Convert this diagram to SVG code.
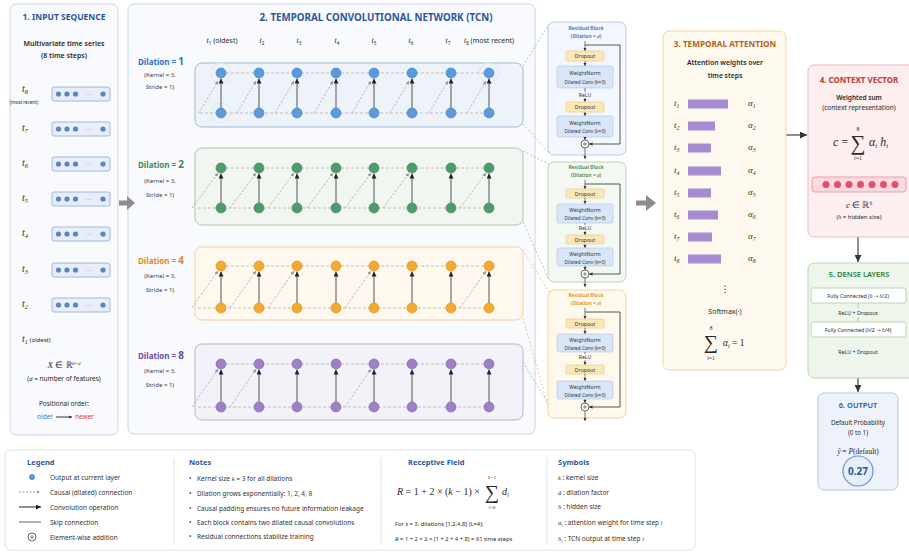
<svg xmlns="http://www.w3.org/2000/svg" width="909" height="553" viewBox="0 0 909 553">
<defs>
<style>
text{font-family:"Noto Sans","Liberation Sans",sans-serif;fill:#2a2a2a}
.ttl{font-size:9px;font-weight:700;text-anchor:middle}
.c{text-anchor:middle}
.s7{font-size:7px;font-weight:600}
.s6{font-size:6px}
.s55{font-size:5.5px}
.mi{font-family:"Liberation Serif","DejaVu Serif",serif;font-style:italic}
.ar{font-family:"DejaVu Sans",sans-serif}
.sb{font-size:65%}
.tl{font-size:7px;text-anchor:middle}
.lab{font-size:10px;font-family:"Liberation Serif","DejaVu Serif",serif;font-style:italic}
.dl{font-size:8px;font-weight:700}
.kr{font-size:6px;text-anchor:middle;fill:#444}
.ibox{fill:#e7eef9;stroke:#8ea9d3;stroke-width:.8}
.idot{fill:#5a85c3}
.nb{fill:#5b9bdc;stroke:#3d7cc2;stroke-width:.6}
.ng{fill:#4e9c6c;stroke:#357f52;stroke-width:.6}
.no{fill:#f2aa33;stroke:#d58c14;stroke-width:.6}
.np{fill:#9d80c6;stroke:#7a5eaa;stroke-width:.6}
.hd{stroke:#b0b0b0;stroke-width:.8;stroke-dasharray:3 2;fill:none}
.vt{stroke:#555;stroke-width:1;marker-end:url(#ah)}
.dg{stroke:#a0a0a0;stroke-width:.7;stroke-dasharray:2.5 1.5;fill:none;marker-end:url(#ahs)}
.zl{stroke:#9aa4b0;stroke-width:.7;stroke-dasharray:2 2;fill:none}
.zo{stroke:#eab267;stroke-width:.7;stroke-dasharray:2 2;fill:none}
.rbt{font-size:5px;text-anchor:middle;font-weight:600}
.rt{font-size:5.2px;text-anchor:middle;fill:#333}
.rt2{font-size:4.8px;text-anchor:middle;fill:#333}
.dr{fill:#fce8b6;stroke:#e6c47c;stroke-width:.6}
.wn{fill:#d8e6f8;stroke:#a7c1e6;stroke-width:.6}
.ra{stroke:#444;stroke-width:.7;marker-end:url(#ahr)}
.sk{stroke:#444;stroke-width:.9;fill:none;marker-end:url(#ahr)}
.bar{fill:#a68bd0}
.at{font-size:9px;font-family:"Liberation Serif","DejaVu Serif",serif;font-style:italic;fill:#333}
.lg{font-size:6.5px;fill:#333}
.lt{font-size:7.5px;font-weight:700;fill:#2b5797}
</style>
<marker id="ah" viewBox="0 0 6 6" refX="6" refY="3" markerWidth="5" markerHeight="5" markerUnits="userSpaceOnUse" orient="auto"><path d="M0,0L6,3L0,6z" fill="#222"/></marker>
<marker id="ahs" viewBox="0 0 6 6" refX="6" refY="3" markerWidth="3.5" markerHeight="3.5" markerUnits="userSpaceOnUse" orient="auto"><path d="M0,0L6,3L0,6z" fill="#8f8f8f"/></marker>
<marker id="ahr" viewBox="0 0 6 6" refX="6" refY="3" markerWidth="3.5" markerHeight="3.5" markerUnits="userSpaceOnUse" orient="auto"><path d="M0,0L6,3L0,6z" fill="#333"/></marker>
<marker id="ahb" viewBox="0 0 6 6" refX="6" refY="3" markerWidth="7" markerHeight="7" markerUnits="userSpaceOnUse" orient="auto"><path d="M0,0L6,3L0,6z" fill="#333"/></marker>
</defs>
<rect width="909" height="553" fill="#ffffff"/>

<!-- Panel 1 -->
<g id="input-sequence">
<rect x="10" y="4" width="108" height="431" rx="6" fill="#f8fafd" stroke="#c9d6e8"/>
<text x="64" y="20" class="ttl" style="fill:#2b5797;font-size:8.5px">1. INPUT SEQUENCE</text>
<text x="64" y="46" class="c s7">Multivariate time series</text>
<text x="64" y="58" class="c s7">(8 time steps)</text>
<text x="22" y="92" class="lab">t<tspan class="sb" dy="2">8</tspan></text>
<text x="24" y="104" class="c" style="font-size:4.5px">(most recent)</text>
<text x="22" y="131" class="lab">t<tspan class="sb" dy="2">7</tspan></text>
<text x="22" y="166" class="lab">t<tspan class="sb" dy="2">6</tspan></text>
<text x="22" y="201" class="lab">t<tspan class="sb" dy="2">5</tspan></text>
<text x="22" y="236" class="lab">t<tspan class="sb" dy="2">4</tspan></text>
<text x="22" y="272" class="lab">t<tspan class="sb" dy="2">3</tspan></text>
<text x="22" y="307" class="lab">t<tspan class="sb" dy="2">2</tspan></text>
<text x="22" y="342" class="lab">t<tspan class="sb" dy="2">1</tspan><tspan dy="-2" style="font-family:'Noto Sans','Liberation Sans',sans-serif;font-style:normal;font-size:6px"> (oldest)</tspan></text>
<g id="feat-rows">
<rect class="ibox" x="52" y="87" width="58" height="14" rx="2"/>
<rect class="ibox" x="52" y="122" width="58" height="14" rx="2"/>
<rect class="ibox" x="52" y="157" width="58" height="14" rx="2"/>
<rect class="ibox" x="52" y="192" width="58" height="14" rx="2"/>
<rect class="ibox" x="52" y="227" width="58" height="14" rx="2"/>
<rect class="ibox" x="52" y="263" width="58" height="14" rx="2"/>
<rect class="ibox" x="52" y="298" width="58" height="14" rx="2"/>
<g class="idot">
<circle cx="58.5" cy="94" r="2.6"/><circle cx="67" cy="94" r="2.6"/><circle cx="75.5" cy="94" r="2.6"/><circle cx="103" cy="94" r="2.6"/>
<circle cx="58.5" cy="129" r="2.6"/><circle cx="67" cy="129" r="2.6"/><circle cx="75.5" cy="129" r="2.6"/><circle cx="103" cy="129" r="2.6"/>
<circle cx="58.5" cy="164" r="2.6"/><circle cx="67" cy="164" r="2.6"/><circle cx="75.5" cy="164" r="2.6"/><circle cx="103" cy="164" r="2.6"/>
<circle cx="58.5" cy="199" r="2.6"/><circle cx="67" cy="199" r="2.6"/><circle cx="75.5" cy="199" r="2.6"/><circle cx="103" cy="199" r="2.6"/>
<circle cx="58.5" cy="234" r="2.6"/><circle cx="67" cy="234" r="2.6"/><circle cx="75.5" cy="234" r="2.6"/><circle cx="103" cy="234" r="2.6"/>
<circle cx="58.5" cy="270" r="2.6"/><circle cx="67" cy="270" r="2.6"/><circle cx="75.5" cy="270" r="2.6"/><circle cx="103" cy="270" r="2.6"/>
<circle cx="58.5" cy="305" r="2.6"/><circle cx="67" cy="305" r="2.6"/><circle cx="75.5" cy="305" r="2.6"/><circle cx="103" cy="305" r="2.6"/>
</g>
<g style="font-size:6px">
<text x="89" y="96" class="c" style="fill:#5a85c3">···</text>
<text x="89" y="131" class="c" style="fill:#5a85c3">···</text>
<text x="89" y="166" class="c" style="fill:#5a85c3">···</text>
<text x="89" y="201" class="c" style="fill:#5a85c3">···</text>
<text x="89" y="236" class="c" style="fill:#5a85c3">···</text>
<text x="89" y="272" class="c" style="fill:#5a85c3">···</text>
<text x="89" y="307" class="c" style="fill:#5a85c3">···</text>
</g>
</g>
<text x="64" y="368" class="c" style="font-size:9px"><tspan class="mi">X</tspan> ∈ ℝ<tspan dy="-3.5" style="font-size:5px" class="mi">8×d</tspan></text>
<text x="64" y="381" class="c" style="font-size:6.5px">(<tspan class="mi">d</tspan> = number of features)</text>
<text x="64" y="406" class="c" style="font-size:6.5px">Positional order:</text>
<text x="53" y="419" style="font-size:6.5px;fill:#3f78c8;text-anchor:end">older</text>
<line x1="56" y1="417" x2="72" y2="417" stroke="#222" stroke-width=".9" marker-end="url(#ahr)"/>
<text x="75" y="419" style="font-size:6.5px;fill:#e0393e">newer</text>
</g>

<!-- Panel 2 -->
<g id="tcn">
<rect x="128" y="4" width="407" height="430" rx="6" fill="#f8fafd" stroke="#c9d6e8"/>
<text x="376" y="21" class="ttl" style="fill:#2b5797;font-size:9.8px">2. TEMPORAL CONVOLUTIONAL NETWORK (TCN)</text>
<g id="time-labels">
<text x="222" y="43" class="tl"><tspan class="mi" style="font-size:8px">t</tspan><tspan class="sb" dy="1.5">1</tspan><tspan dy="-1.5"> (oldest)</tspan></text>
<text x="262" y="43" class="tl"><tspan class="mi" style="font-size:8px">t</tspan><tspan class="sb" dy="1.5">2</tspan></text>
<text x="299" y="43" class="tl"><tspan class="mi" style="font-size:8px">t</tspan><tspan class="sb" dy="1.5">3</tspan></text>
<text x="337" y="43" class="tl"><tspan class="mi" style="font-size:8px">t</tspan><tspan class="sb" dy="1.5">4</tspan></text>
<text x="374" y="43" class="tl"><tspan class="mi" style="font-size:8px">t</tspan><tspan class="sb" dy="1.5">5</tspan></text>
<text x="411" y="43" class="tl"><tspan class="mi" style="font-size:8px">t</tspan><tspan class="sb" dy="1.5">6</tspan></text>
<text x="448" y="43" class="tl"><tspan class="mi" style="font-size:8px">t</tspan><tspan class="sb" dy="1.5">7</tspan></text>
<text x="489" y="43" class="tl"><tspan class="mi" style="font-size:8px">t</tspan><tspan class="sb" dy="1.5">8</tspan><tspan dy="-1.5"> (most recent)</tspan></text>
</g>

<g id="row-d1">
<rect x="195" y="63" width="328" height="64" rx="7" fill="#eef3fa" stroke="#9db7d8"/>
<text x="138" y="65" class="dl" style="fill:#2f6fc0">Dilation = <tspan style="font-size:10px">1</tspan></text>
<text x="160" y="77" class="kr">(Kernel = 3,</text>
<text x="160" y="89" class="kr">Stride = 1)</text>
<circle cx="221" cy="73" r="10" fill="none" stroke="#dfe7f2"/>
<circle cx="221" cy="113" r="10" fill="none" stroke="#dfe7f2"/>
<circle cx="489" cy="73" r="10" fill="none" stroke="#dfe7f2"/>
</g>
<g id="row-d2">
<rect x="195" y="148" width="328" height="77" rx="7" fill="#f2f6f1" stroke="#a9c9a9"/>
<text x="138" y="168" class="dl" style="fill:#3a8a55">Dilation = <tspan style="font-size:10px">2</tspan></text>
<text x="160" y="183" class="kr">(Kernel = 3,</text>
<text x="160" y="197" class="kr">Stride = 1)</text>
</g>
<g id="row-d4">
<rect x="195" y="247" width="328" height="73" rx="7" fill="#fff8ee" stroke="#f2cf98"/>
<text x="138" y="264" class="dl" style="fill:#e08a1e">Dilation = <tspan style="font-size:10px">4</tspan></text>
<text x="160" y="278" class="kr">(Kernel = 3,</text>
<text x="160" y="292" class="kr">Stride = 1)</text>
</g>
<g id="row-d8">
<rect x="195" y="344" width="328" height="76" rx="7" fill="#f4f2f9" stroke="#b9aed6"/>
<text x="138" y="359" class="dl" style="fill:#6a4ea0">Dilation = <tspan style="font-size:10px">8</tspan></text>
<text x="160" y="373" class="kr">(Kernel = 3,</text>
<text x="160" y="387" class="kr">Stride = 1)</text>
</g>
</g>

<!-- Connectors -->
<g id="connectors">
<path class="hd" d="M221 73H489M200 113H489"/>
<line class="dg" x1="199" y1="113" x2="218" y2="81"/><line class="dg" x1="237" y1="113" x2="256" y2="81"/><line class="dg" x1="275" y1="113" x2="294" y2="81"/><line class="dg" x1="314" y1="113" x2="333" y2="81"/><line class="dg" x1="352" y1="113" x2="371" y2="81"/><line class="dg" x1="390" y1="113" x2="409" y2="81"/><line class="dg" x1="429" y1="113" x2="448" y2="81"/><line class="dg" x1="467" y1="113" x2="486" y2="81"/>
<line class="vt" x1="221" y1="108" x2="221" y2="78.5"/><line class="vt" x1="259" y1="108" x2="259" y2="78.5"/><line class="vt" x1="297" y1="108" x2="297" y2="78.5"/><line class="vt" x1="336" y1="108" x2="336" y2="78.5"/><line class="vt" x1="374" y1="108" x2="374" y2="78.5"/><line class="vt" x1="412" y1="108" x2="412" y2="78.5"/><line class="vt" x1="451" y1="108" x2="451" y2="78.5"/><line class="vt" x1="489" y1="108" x2="489" y2="78.5"/>
<path class="hd" d="M221 168H489M198 208H489"/>
<line class="dg" x1="192" y1="208" x2="218" y2="173"/><line class="dg" x1="230" y1="208" x2="256" y2="173"/><line class="dg" x1="268" y1="208" x2="294" y2="173"/><line class="dg" x1="307" y1="208" x2="333" y2="173"/><line class="dg" x1="345" y1="208" x2="371" y2="173"/><line class="dg" x1="383" y1="208" x2="409" y2="173"/><line class="dg" x1="460" y1="208" x2="486" y2="173"/>
<line class="vt" x1="221" y1="203" x2="221" y2="173.5"/><line class="vt" x1="259" y1="203" x2="259" y2="173.5"/><line class="vt" x1="297" y1="203" x2="297" y2="173.5"/><line class="vt" x1="336" y1="203" x2="336" y2="173.5"/><line class="vt" x1="374" y1="203" x2="374" y2="173.5"/><line class="vt" x1="412" y1="203" x2="412" y2="173.5"/><line class="vt" x1="451" y1="203" x2="451" y2="173.5"/><line class="vt" x1="489" y1="203" x2="489" y2="173.5"/>
<path class="hd" d="M221 266H489M198 308H489"/>
<line class="dg" x1="192" y1="308" x2="218" y2="271"/><line class="dg" x1="230" y1="308" x2="256" y2="271"/><line class="dg" x1="268" y1="308" x2="294" y2="271"/><line class="dg" x1="345" y1="308" x2="371" y2="271"/><line class="dg" x1="460" y1="308" x2="486" y2="271"/>
<line class="vt" x1="221" y1="303" x2="221" y2="271.5"/><line class="vt" x1="259" y1="303" x2="259" y2="271.5"/><line class="vt" x1="297" y1="303" x2="297" y2="271.5"/><line class="vt" x1="336" y1="303" x2="336" y2="271.5"/><line class="vt" x1="374" y1="303" x2="374" y2="271.5"/><line class="vt" x1="412" y1="303" x2="412" y2="271.5"/><line class="vt" x1="451" y1="303" x2="451" y2="271.5"/><line class="vt" x1="489" y1="303" x2="489" y2="271.5"/>
<path class="hd" d="M221 364H489M198 407H489"/>
<line class="dg" x1="192" y1="407" x2="218" y2="369"/><line class="dg" x1="230" y1="407" x2="256" y2="369"/><line class="dg" x1="345" y1="407" x2="371" y2="369"/>
<line class="vt" x1="221" y1="402" x2="221" y2="369.5"/><line class="vt" x1="259" y1="402" x2="259" y2="369.5"/><line class="vt" x1="297" y1="402" x2="297" y2="369.5"/><line class="vt" x1="336" y1="402" x2="336" y2="369.5"/><line class="vt" x1="374" y1="402" x2="374" y2="369.5"/><line class="vt" x1="412" y1="402" x2="412" y2="369.5"/><line class="vt" x1="451" y1="402" x2="451" y2="369.5"/><line class="vt" x1="489" y1="402" x2="489" y2="369.5"/>
<path class="zl" d="M523 66L549 24M523 124L549 153M523 151L549 164M523 222L549 280M523 362L549 405"/>
<path class="zo" d="M523 250L549 292M523 318L549 410"/>
<polygon points="119,200.5 127,200.5 127,196 135,203 127,210 127,205.5 119,205.5" fill="#8c8c8c"/>
<polygon points="636,200.5 646,200.5 646,195 656,203 646,211 646,205.5 636,205.5" fill="#8c8c8c"/>
<line x1="786" y1="135" x2="807" y2="135" stroke="#444" stroke-width="1.2" marker-end="url(#ahb)"/>
<line x1="858" y1="237" x2="858" y2="262" stroke="#444" stroke-width="1.2" marker-end="url(#ahb)"/>
<line x1="858" y1="378" x2="858" y2="392" stroke="#444" stroke-width="1.2" marker-end="url(#ahb)"/>
</g>

<!-- Nodes -->
<g id="nodes-d1" class="nb">
<circle cx="221" cy="73" r="5"/><circle cx="259" cy="73" r="5"/><circle cx="297" cy="73" r="5"/><circle cx="336" cy="73" r="5"/><circle cx="374" cy="73" r="5"/><circle cx="412" cy="73" r="5"/><circle cx="451" cy="73" r="5"/><circle cx="489" cy="73" r="5"/>
<circle cx="221" cy="113" r="5"/><circle cx="259" cy="113" r="5"/><circle cx="297" cy="113" r="5"/><circle cx="336" cy="113" r="5"/><circle cx="374" cy="113" r="5"/><circle cx="412" cy="113" r="5"/><circle cx="451" cy="113" r="5"/><circle cx="489" cy="113" r="5"/>
</g>
<g id="nodes-d2" class="ng">
<circle cx="221" cy="168" r="5"/><circle cx="259" cy="168" r="5"/><circle cx="297" cy="168" r="5"/><circle cx="336" cy="168" r="5"/><circle cx="374" cy="168" r="5"/><circle cx="412" cy="168" r="5"/><circle cx="451" cy="168" r="5"/><circle cx="489" cy="168" r="5"/>
<circle cx="221" cy="208" r="5"/><circle cx="259" cy="208" r="5"/><circle cx="297" cy="208" r="5"/><circle cx="336" cy="208" r="5"/><circle cx="374" cy="208" r="5"/><circle cx="412" cy="208" r="5"/><circle cx="451" cy="208" r="5"/><circle cx="489" cy="208" r="5"/>
</g>
<g id="nodes-d4" class="no">
<circle cx="221" cy="266" r="5"/><circle cx="259" cy="266" r="5"/><circle cx="297" cy="266" r="5"/><circle cx="336" cy="266" r="5"/><circle cx="374" cy="266" r="5"/><circle cx="412" cy="266" r="5"/><circle cx="451" cy="266" r="5"/><circle cx="489" cy="266" r="5"/>
<circle cx="221" cy="308" r="5"/><circle cx="259" cy="308" r="5"/><circle cx="297" cy="308" r="5"/><circle cx="336" cy="308" r="5"/><circle cx="374" cy="308" r="5"/><circle cx="412" cy="308" r="5"/><circle cx="451" cy="308" r="5"/><circle cx="489" cy="308" r="5"/>
</g>
<g id="nodes-d8" class="np">
<circle cx="221" cy="364" r="5"/><circle cx="259" cy="364" r="5"/><circle cx="297" cy="364" r="5"/><circle cx="336" cy="364" r="5"/><circle cx="374" cy="364" r="5"/><circle cx="412" cy="364" r="5"/><circle cx="451" cy="364" r="5"/><circle cx="489" cy="364" r="5"/>
<circle cx="221" cy="407" r="5"/><circle cx="259" cy="407" r="5"/><circle cx="297" cy="407" r="5"/><circle cx="336" cy="407" r="5"/><circle cx="374" cy="407" r="5"/><circle cx="412" cy="407" r="5"/><circle cx="451" cy="407" r="5"/><circle cx="489" cy="407" r="5"/>
</g>

<!-- Residual blocks -->
<g id="resblock-1">
<rect x="548" y="22" width="78" height="133" rx="6" fill="#f3f7fd" stroke="#b5c9e5"/>
<text x="586" y="30" class="rbt" style="fill:#2f6fc0">Residual Block</text>
<text x="586" y="38" class="rbt" style="fill:#2f6fc0">(Dilation = <tspan class="mi">d</tspan>)</text>
<line class="ra" x1="585" y1="41" x2="585" y2="51"/>
<rect class="dr" x="566" y="51" width="38" height="10" rx="1.5"/><text x="585" y="58" class="rt">Dropout</text>
<line class="ra" x1="585" y1="61" x2="585" y2="66"/>
<rect class="wn" x="557" y="66" width="56" height="22" rx="2"/><text x="585" y="75" class="rt">WeightNorm</text><text x="585" y="84" class="rt2">Dilated Conv (k=3)</text>
<line stroke="#444" stroke-width=".7" x1="585" y1="88" x2="585" y2="92"/>
<text x="585" y="97" class="rt">ReLU</text>
<line class="ra" x1="585" y1="98" x2="585" y2="102"/>
<rect class="dr" x="566" y="102" width="38" height="10" rx="1.5"/><text x="585" y="109" class="rt">Dropout</text>
<line class="ra" x1="585" y1="112" x2="585" y2="116"/>
<rect class="wn" x="557" y="116" width="56" height="21" rx="2"/><text x="585" y="125" class="rt">WeightNorm</text><text x="585" y="133" class="rt2">Dilated Conv (k=3)</text>
<line class="ra" x1="585" y1="137" x2="585" y2="140"/>
<circle cx="585" cy="144" r="4" fill="#fff" stroke="#444" stroke-width=".8"/><path d="M583 144H587M585 142V146" stroke="#444" stroke-width=".6"/>
<line class="ra" x1="585" y1="148" x2="585" y2="159"/>
<path class="sk" d="M585 45H620V144H589"/>
</g>
<g id="resblock-2">
<rect x="548" y="162" width="78" height="120" rx="6" fill="#f3f8f2" stroke="#b4d3b4"/>
<text x="586" y="169" class="rbt" style="fill:#3a8a55">Residual Block</text>
<text x="586" y="177" class="rbt" style="fill:#3a8a55">(Dilation = <tspan class="mi">d</tspan>)</text>
<line class="ra" x1="585" y1="180" x2="585" y2="189"/>
<rect class="dr" x="566" y="189" width="38" height="9" rx="1.5"/><text x="585" y="195.5" class="rt">Dropout</text>
<line class="ra" x1="585" y1="198" x2="585" y2="204"/>
<rect class="wn" x="557" y="204" width="56" height="19" rx="2"/><text x="585" y="212" class="rt">WeightNorm</text><text x="585" y="220" class="rt2">Dilated Conv (k=3)</text>
<line stroke="#444" stroke-width=".7" x1="585" y1="223" x2="585" y2="225"/>
<text x="585" y="229.5" class="rt">ReLU</text>
<line class="ra" x1="585" y1="231" x2="585" y2="235"/>
<rect class="dr" x="566" y="235" width="38" height="9" rx="1.5"/><text x="585" y="241.5" class="rt">Dropout</text>
<line class="ra" x1="585" y1="244" x2="585" y2="248"/>
<rect class="wn" x="557" y="248" width="56" height="18" rx="2"/><text x="585" y="256" class="rt">WeightNorm</text><text x="585" y="263.5" class="rt2">Dilated Conv (k=3)</text>
<line class="ra" x1="585" y1="266" x2="585" y2="270"/>
<circle cx="585" cy="274" r="4" fill="#fff" stroke="#444" stroke-width=".8"/><path d="M583 274H587M585 272V276" stroke="#444" stroke-width=".6"/>
<line class="ra" x1="585" y1="278" x2="585" y2="287"/>
<path class="sk" d="M585 184H620V274H589"/>
</g>
<g id="resblock-3">
<rect x="548" y="290" width="78" height="128" rx="6" fill="#fff8ec" stroke="#f2d39c"/>
<text x="586" y="297" class="rbt" style="fill:#e08a1e">Residual Block</text>
<text x="586" y="305" class="rbt" style="fill:#e08a1e">(Dilation = <tspan class="mi">d</tspan>)</text>
<line class="ra" x1="585" y1="308" x2="585" y2="319"/>
<rect class="dr" x="566" y="319" width="38" height="9" rx="1.5"/><text x="585" y="325.5" class="rt">Dropout</text>
<line class="ra" x1="585" y1="328" x2="585" y2="334"/>
<rect class="wn" x="557" y="334" width="56" height="18" rx="2"/><text x="585" y="342" class="rt">WeightNorm</text><text x="585" y="349.5" class="rt2">Dilated Conv (k=3)</text>
<line stroke="#444" stroke-width=".7" x1="585" y1="352" x2="585" y2="354"/>
<text x="585" y="358.5" class="rt">ReLU</text>
<line class="ra" x1="585" y1="360" x2="585" y2="365"/>
<rect class="dr" x="566" y="365" width="38" height="9" rx="1.5"/><text x="585" y="371.5" class="rt">Dropout</text>
<line class="ra" x1="585" y1="374" x2="585" y2="381"/>
<rect class="wn" x="557" y="381" width="56" height="18" rx="2"/><text x="585" y="389" class="rt">WeightNorm</text><text x="585" y="396.5" class="rt2">Dilated Conv (k=3)</text>
<line class="ra" x1="585" y1="399" x2="585" y2="403"/>
<circle cx="585" cy="407" r="4" fill="#fff" stroke="#444" stroke-width=".8"/><path d="M583 407H587M585 405V409" stroke="#444" stroke-width=".6"/>
<line class="ra" x1="585" y1="411" x2="585" y2="421"/>
<path class="sk" d="M585 312H620V407H589"/>
</g>

<!-- Panel 3 -->
<g id="temporal-attention">
<rect x="663" y="31" width="123" height="339" rx="6" fill="#fdf9ee" stroke="#efd9a6"/>
<text x="725" y="47" class="ttl" style="fill:#b3651e;font-size:8.2px">3. TEMPORAL ATTENTION</text>
<text x="725" y="65" class="c s7" style="font-size:6.8px">Attention weights over</text>
<text x="725" y="78" class="c s7" style="font-size:6.8px">time steps</text>
<rect class="bar" x="688" y="99.5" width="40" height="9"/>
<rect class="bar" x="688" y="121.5" width="27" height="9"/>
<rect class="bar" x="688" y="143.5" width="23" height="9"/>
<rect class="bar" x="688" y="166.5" width="33" height="9"/>
<rect class="bar" x="688" y="188.5" width="23" height="9"/>
<rect class="bar" x="688" y="210.5" width="30" height="9"/>
<rect class="bar" x="688" y="232.5" width="24" height="9"/>
<rect class="bar" x="688" y="254.5" width="33" height="9"/>
<text x="674" y="106" class="at">t<tspan class="sb" dy="1.5">1</tspan></text>
<text x="674" y="128" class="at">t<tspan class="sb" dy="1.5">2</tspan></text>
<text x="674" y="150" class="at">t<tspan class="sb" dy="1.5">3</tspan></text>
<text x="674" y="173" class="at">t<tspan class="sb" dy="1.5">4</tspan></text>
<text x="674" y="195" class="at">t<tspan class="sb" dy="1.5">5</tspan></text>
<text x="674" y="217" class="at">t<tspan class="sb" dy="1.5">6</tspan></text>
<text x="674" y="239" class="at">t<tspan class="sb" dy="1.5">7</tspan></text>
<text x="674" y="261" class="at">t<tspan class="sb" dy="1.5">8</tspan></text>
<text x="748" y="106" class="at">α<tspan class="sb" dy="1.5">1</tspan></text>
<text x="748" y="128" class="at">α<tspan class="sb" dy="1.5">2</tspan></text>
<text x="748" y="150" class="at">α<tspan class="sb" dy="1.5">3</tspan></text>
<text x="748" y="173" class="at">α<tspan class="sb" dy="1.5">4</tspan></text>
<text x="748" y="195" class="at">α<tspan class="sb" dy="1.5">5</tspan></text>
<text x="748" y="217" class="at">α<tspan class="sb" dy="1.5">6</tspan></text>
<text x="748" y="239" class="at">α<tspan class="sb" dy="1.5">7</tspan></text>
<text x="748" y="261" class="at">α<tspan class="sb" dy="1.5">8</tspan></text>
<text x="725" y="292" class="c" style="font-size:9px;font-family:'DejaVu Sans',sans-serif">⋮</text>
<text x="725" y="314" class="c" style="font-size:7px">Softmax(·)</text>
<text x="711" y="349" class="c" style="font-size:20px;font-family:'Liberation Serif',serif">∑</text>
<text x="711" y="330" class="c" style="font-size:5.5px;font-family:'Liberation Serif',serif">8</text>
<text x="711" y="360" class="c" style="font-size:5.5px;font-family:'Liberation Serif',serif"><tspan class="mi">i</tspan>=1</text>
<text x="723" y="346" style="font-size:9.5px;font-family:'Liberation Serif',serif"><tspan class="mi">α</tspan><tspan class="mi sb" dy="1.5">i</tspan><tspan dy="-1.5"> = 1</tspan></text>
</g>

<!-- Panel 4 -->
<g id="context-vector">
<rect x="808" y="65" width="108" height="172" rx="6" fill="#fdeef0" stroke="#f0b7bf"/>
<text x="859" y="83" class="ttl" style="fill:#c0392b;font-size:8px">4. CONTEXT VECTOR</text>
<text x="859" y="100" class="c s7" style="font-size:6.5px">Weighted sum</text>
<text x="859" y="110" class="c s7" style="font-size:6.5px;font-weight:400">(context representation)</text>
<text x="848" y="146" style="font-size:12px;font-family:'Liberation Serif',serif;text-anchor:end"><tspan class="mi">c</tspan> =</text>
<text x="858" y="150" class="c" style="font-size:21px;font-family:'Liberation Serif',serif">∑</text>
<text x="858" y="131" class="c" style="font-size:6px;font-family:'Liberation Serif',serif">8</text>
<text x="858" y="160" class="c" style="font-size:6px;font-family:'Liberation Serif',serif"><tspan class="mi">i</tspan>=1</text>
<text x="869" y="146" style="font-size:12px;font-family:'Liberation Serif',serif"><tspan class="mi">α</tspan><tspan class="mi" style="font-size:7px" dy="2">i</tspan><tspan class="mi" dy="-2"> h</tspan><tspan class="mi" style="font-size:7px" dy="2">i</tspan></text>
<rect x="812" y="177" width="94" height="15" rx="3" fill="#fbd9de" stroke="#e8a0ab"/>
<g fill="#e0506a"><circle cx="826" cy="184.5" r="3.5"/><circle cx="837.5" cy="184.5" r="3.5"/><circle cx="849" cy="184.5" r="3.5"/><circle cx="860.5" cy="184.5" r="3.5"/><circle cx="872" cy="184.5" r="3.5"/><circle cx="883.5" cy="184.5" r="3.5"/><circle cx="895" cy="184.5" r="3.5"/></g>
<text x="859" y="208" class="c" style="font-size:9px;font-family:'Liberation Serif',serif"><tspan class="mi">c</tspan> ∈ ℝ<tspan class="mi" dy="-3.5" style="font-size:5.5px">h</tspan></text>
<text x="859" y="219" class="c" style="font-size:6px">(<tspan class="mi">h</tspan> = hidden size)</text>
</g>

<!-- Panel 5 -->
<g id="dense-layers">
<rect x="808" y="263" width="108" height="115" rx="6" fill="#eef6ec" stroke="#b8d8b0"/>
<text x="859" y="277" class="ttl" style="fill:#2e7d32;font-size:7.5px;font-weight:600">5. DENSE LAYERS</text>
<rect x="811" y="288" width="95" height="15" rx="2" fill="#fff" stroke="#b8d8b0"/>
<text x="858" y="297.5" class="c" style="font-size:5.3px">Fully Connected (<tspan class="mi">h</tspan> <tspan class="ar">→</tspan> <tspan class="mi">h</tspan>/2)</text>
<line x1="858" y1="303" x2="858" y2="308" stroke="#999" stroke-width=".6"/>
<text x="858" y="315" class="c" style="font-size:5.3px">ReLU + Dropout</text>
<line x1="858" y1="317" x2="858" y2="322" stroke="#999" stroke-width=".6"/>
<rect x="811" y="322" width="95" height="15" rx="2" fill="#fff" stroke="#b8d8b0"/>
<text x="858" y="331.5" class="c" style="font-size:5.3px">Fully Connected (<tspan class="mi">h</tspan>/2 <tspan class="ar">→</tspan> <tspan class="mi">h</tspan>/4)</text>
<text x="858" y="354" class="c" style="font-size:5.3px">ReLU + Dropout</text>
</g>

<!-- Panel 6 -->
<g id="output">
<rect x="818" y="393" width="80" height="97" rx="6" fill="#eef3fb" stroke="#b5c8e6"/>
<text x="858" y="408" class="ttl" style="fill:#2b5797;font-size:7.5px;font-weight:600">6. OUTPUT</text>
<text x="858" y="425" class="c" style="font-size:6.2px">Default Probability</text>
<text x="858" y="435" class="c" style="font-size:6.2px">(0 to 1)</text>
<text x="858" y="454" class="c" style="font-size:7.5px;font-family:'Liberation Serif',serif"><tspan class="mi">ŷ</tspan> = <tspan class="mi">P</tspan>(default)</text>
<circle cx="858" cy="471" r="15" fill="#e6eefa" stroke="#6b93cf" stroke-width="1.2"/>
<text x="858" y="475" class="c" style="font-size:10px;font-weight:700;fill:#2b5797">0.27</text>
</g>

<!-- Legend -->
<g id="legend">
<rect x="5" y="450" width="690" height="100" rx="5" fill="#ffffff" stroke="#dde3ea"/>
<text x="27" y="465" class="lt">Legend</text>
<circle cx="32" cy="477" r="3" fill="#5b9bdc"/>
<text x="50" y="479.5" class="lg">Output at current layer</text>
<line x1="19" y1="492" x2="40" y2="492" stroke="#888" stroke-width=".8" stroke-dasharray="2 1.5" marker-end="url(#ahs)"/>
<text x="50" y="494.5" class="lg">Causal (dilated) connection</text>
<line x1="19" y1="507" x2="41" y2="507" stroke="#222" stroke-width="1" marker-end="url(#ah)"/>
<text x="50" y="509.5" class="lg">Convolution operation</text>
<line x1="19" y1="522" x2="41" y2="522" stroke="#666" stroke-width="1"/>
<text x="50" y="524.5" class="lg">Skip connection</text>
<circle cx="32" cy="537" r="4" fill="#fff" stroke="#444" stroke-width=".8"/><path d="M30 537H34M32 535V539" stroke="#444" stroke-width=".6"/>
<text x="50" y="539.5" class="lg">Element-wise addition</text>
<line x1="174" y1="458" x2="174" y2="545" stroke="#e1e5ea"/>
<text x="189" y="465" class="lt">Notes</text>
<text x="189" y="481" class="lg">•</text><text x="197" y="481" class="lg">Kernel size <tspan class="mi">k</tspan> = 3 for all dilations</text>
<text x="189" y="496" class="lg">•</text><text x="197" y="496" class="lg">Dilation grows exponentially: 1, 2, 4, 8</text>
<text x="189" y="511" class="lg">•</text><text x="197" y="511" class="lg">Causal padding ensures no future information leakage</text>
<text x="189" y="525" class="lg">•</text><text x="197" y="525" class="lg">Each block contains two dilated causal convolutions</text>
<text x="189" y="539" class="lg">•</text><text x="197" y="539" class="lg">Residual connections stabilize training</text>
<line x1="381" y1="458" x2="381" y2="545" stroke="#e1e5ea"/>
<text x="408" y="465" class="lt">Receptive Field</text>
<text x="397" y="495" style="font-size:10px;font-family:'Liberation Serif',serif"><tspan class="mi">R</tspan> = 1 + 2 × (<tspan class="mi">k</tspan> − 1) ×</text>
<text x="492" y="499" class="c" style="font-size:20px;font-family:'Liberation Serif',serif">∑</text>
<text x="492" y="479" class="c" style="font-size:5px;font-family:'Liberation Serif',serif"><tspan class="mi">L</tspan>−1</text>
<text x="492" y="509" class="c" style="font-size:5px;font-family:'Liberation Serif',serif"><tspan class="mi">l</tspan>=0</text>
<text x="502" y="495" style="font-size:10px;font-family:'Liberation Serif',serif"><tspan class="mi">d</tspan><tspan class="mi" style="font-size:6px" dy="2">l</tspan></text>
<text x="395" y="526" style="font-size:5.8px">For <tspan class="mi">k</tspan> = 3, dilations [1,2,4,8] (L=4):</text>
<text x="395" y="541" style="font-size:5.8px"><tspan class="mi">R</tspan> = 1 + 2 × 2 × (1 + 2 + 4 + 8) = 61 time steps</text>
<line x1="547" y1="458" x2="547" y2="545" stroke="#e1e5ea"/>
<text x="558" y="465" class="lt">Symbols</text>
<text x="558" y="480" class="lg"><tspan class="mi">k</tspan> : kernel size</text>
<text x="558" y="495" class="lg"><tspan class="mi">d</tspan> : dilation factor</text>
<text x="558" y="509" class="lg"><tspan class="mi">h</tspan> : hidden size</text>
<text x="558" y="525" class="lg"><tspan class="mi">α</tspan><tspan class="mi" dy="1.5" style="font-size:4.5px">i</tspan><tspan dy="-1.5"> : attention weight for time step </tspan><tspan class="mi">i</tspan></text>
<text x="558" y="541" class="lg"><tspan class="mi">h</tspan><tspan class="mi" dy="1.5" style="font-size:4.5px">i</tspan><tspan dy="-1.5"> : TCN output at time step </tspan><tspan class="mi">i</tspan></text>
</g>
</svg>
